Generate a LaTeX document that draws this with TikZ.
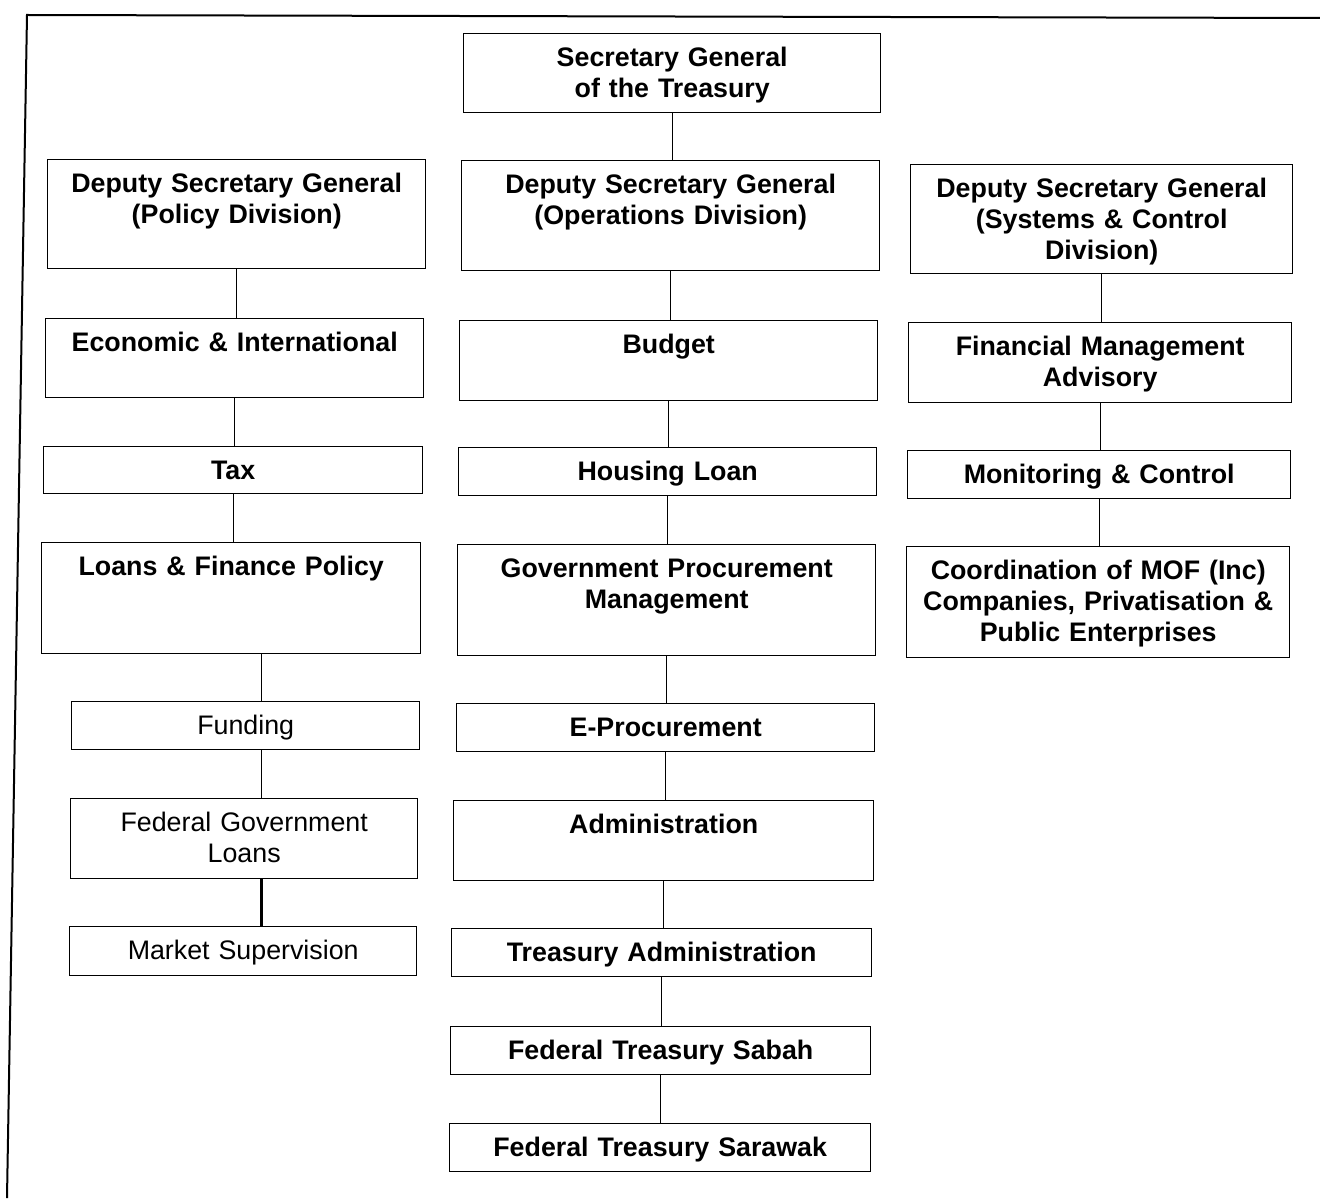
\documentclass[tikz,border=0pt]{standalone}
\usepackage{fontspec}
\setmainfont{Liberation Sans}
\tikzset{
  orgbox/.style={draw, line width=0.7pt, inner sep=0pt, anchor=north west,
    align=center, text height=16.5pt,
    font=\fontsize{13.4}{15.5}\selectfont\bfseries},
  plainbox/.style={orgbox, font=\fontsize{13.4}{15.5}\selectfont},
  link/.style={line width=0.5pt}
}
\begin{document}
\begin{tikzpicture}[x=0.5pt,y=-0.5pt]
    \useasboundingbox (0,0) rectangle (1320,1198);

    % frame
    \draw[line width=1pt] (7,1198) -- (27,15) -- (1320,18);

    % top
    \node[orgbox, text width=208.5pt, text depth=23pt] (sg) at (463,33) {Secretary General\\of the Treasury};

    % policy division
    \node[orgbox, text width=189pt, text depth=38pt] (dsgpol) at (47,159) {Deputy Secretary General\\(Policy Division)};
    \node[orgbox, text width=189pt, text depth=23pt] (econ) at (45,318) {Economic \& International};
    \node[orgbox, text width=189.5pt, text depth=7pt] (tax) at (43,446) {Tax};
    \node[orgbox, text width=189.5pt, text depth=39pt] (lfp) at (41,542) {Loans \& Finance Policy};
    \node[plainbox, text width=174pt, text depth=7.5pt] (funding) at (71,701) {Funding};
    \node[plainbox, text width=173.5pt, text depth=23.5pt] (fgl) at (70,798) {Federal Government\\Loans};
    \node[plainbox, text width=173.5pt, text depth=8pt] (market) at (69,926) {Market Supervision};

    % operations division
    \node[orgbox, text width=209pt, text depth=38.5pt] (dsgops) at (461,160) {Deputy Secretary General\\(Operations Division)};
    \node[orgbox, text width=209pt, text depth=23.5pt] (budget) at (459,320) {Budget};
    \node[orgbox, text width=209pt, text depth=7.5pt] (housing) at (458,447) {Housing Loan};
    \node[orgbox, text width=209pt, text depth=39pt] (gpm) at (457,544) {Government Procurement\\Management};
    \node[orgbox, text width=209pt, text depth=7.5pt] (eproc) at (456,703) {E-Procurement};
    \node[orgbox, text width=210pt, text depth=23.5pt] (admin) at (453,800) {Administration};
    \node[orgbox, text width=210pt, text depth=7.5pt] (tadmin) at (451,928) {Treasury Administration};
    \node[orgbox, text width=210pt, text depth=7.5pt] (sabah) at (450,1026) {Federal Treasury Sabah};
    \node[orgbox, text width=210.5pt, text depth=7.5pt] (sarawak) at (449,1123) {Federal Treasury Sarawak};

    % systems & control division
    \node[orgbox, text width=191pt, text depth=38pt] (dsgsys) at (910,164) {Deputy Secretary General\\(Systems \& Control\\Division)};
    \node[orgbox, text width=191.5pt, text depth=23.5pt] (fma) at (908,322) {Financial Management\\Advisory};
    \node[orgbox, text width=191.5pt, text depth=7.5pt] (monitor) at (907,450) {Monitoring \& Control};
    \node[orgbox, text width=191.5pt, text depth=39pt] (coord) at (906,546) {Coordination of MOF (Inc)\\Companies, Privatisation \&\\Public Enterprises};

    % connectors
    \coordinate (fcol) at (261,0);
    \draw[link] (sg.south) -- (sg.south |- dsgops.north);
    \draw[link] (dsgpol.south) -- (dsgpol.south |- econ.north);
    \draw[link] (econ.south) -- (econ.south |- tax.north);
    \draw[link] (tax.south) -- (tax.south |- lfp.north);
    \draw[link] (lfp.south -| fcol) -- (funding.north -| fcol);
    \draw[link] (funding.south -| fcol) -- (fgl.north -| fcol);
    \draw[line width=1.5pt] (fgl.south -| fcol) -- (market.north -| fcol);

    \draw[link] (dsgops.south) -- (dsgops.south |- budget.north);
    \draw[link] (budget.south) -- (budget.south |- housing.north);
    \draw[link] (housing.south) -- (housing.south |- gpm.north);
    \draw[link] (gpm.south) -- (gpm.south |- eproc.north);
    \draw[link] (eproc.south) -- (eproc.south |- admin.north);
    \draw[link] (admin.south) -- (admin.south |- tadmin.north);
    \draw[link] (tadmin.south) -- (tadmin.south |- sabah.north);
    \draw[link] (sabah.south) -- (sabah.south |- sarawak.north);

    \draw[link] (dsgsys.south) -- (dsgsys.south |- fma.north);
    \draw[link] (fma.south) -- (fma.south |- monitor.north);
    \draw[link] (monitor.south) -- (monitor.south |- coord.north);
\end{tikzpicture}
\end{document}
